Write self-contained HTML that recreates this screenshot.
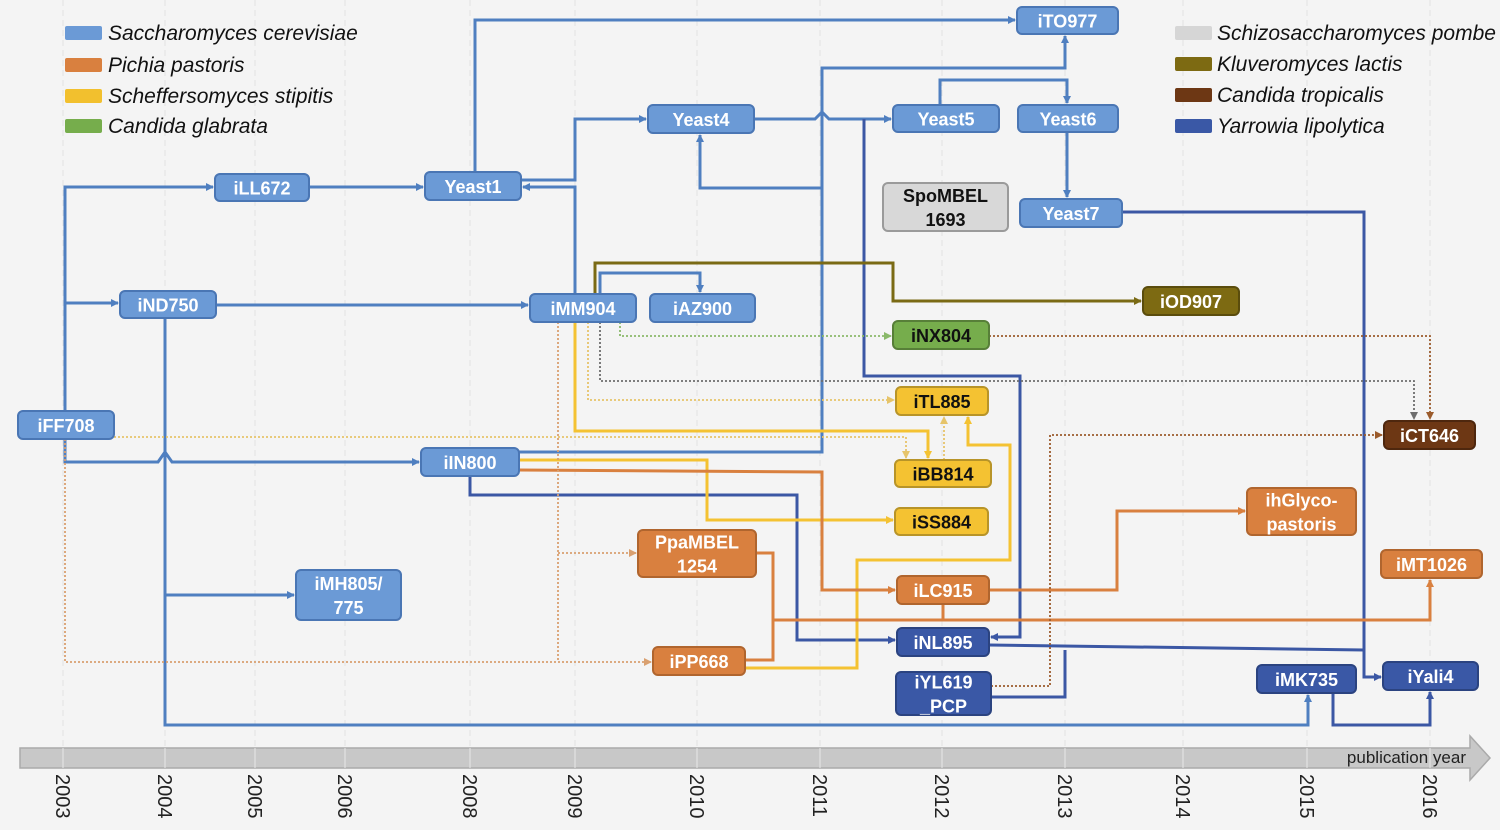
<!DOCTYPE html>
<html><head><meta charset="utf-8"><style>
html,body{margin:0;padding:0;background:#f4f4f4;}
svg{display:block;font-family:"Liberation Sans",sans-serif;}
</style></head><body>
<svg id="chart" width="1500" height="830" viewBox="0 0 1500 830">
<defs id="defs"></defs>
<rect x="0" y="0" width="1500" height="830" fill="#f4f4f4"/>
<g id="grid"></g>
<g id="edges"></g>
<g id="nodes"></g>
<g id="legend"></g>
<g id="axis"></g>
</svg>
<script>
const years = ["2003","2004","2005","2006","2008","2009","2010","2011","2012","2013","2014","2015","2016"];
const yearX = [63,165,255,345,470,575,697,820,942,1065,1183,1307,1430];
const legendLeft = ["Saccharomyces cerevisiae","Pichia pastoris","Scheffersomyces stipitis","Candida glabrata"];
const legendLeftColors = ["#6b9ad6","#d9803f","#f2c02e","#76ad4c"];
const legendRight = ["Schizosaccharomyces pombe","Kluveromyces lactis","Candida tropicalis","Yarrowia lipolytica"];
const legendRightColors = ["#d6d6d6","#7d6a12","#6d3714","#3a58a6"];

const NS="http://www.w3.org/2000/svg";
function mk(tag,attrs,parent){const e=document.createElementNS(NS,tag);for(const k in attrs)e.setAttribute(k,attrs[k]);parent.appendChild(e);return e;}
const C={sc:"#4f7fc0",yl:"#3b57a4",pp:"#d9803f",ss:"#f4c232",ol:"#7a6a14",gr:"#8ab96a",dk:"#6d6d6d",br:"#9b5b2c",op:"#d9a070",oy:"#e6c46a"};
const defs=document.getElementById('defs');
for(const k in C){
  const m=mk('marker',{id:'a'+k,markerWidth:8,markerHeight:8,refX:7,refY:4,orient:'auto',markerUnits:'userSpaceOnUse'},defs);
  mk('path',{d:'M0,0 L8,4 L0,8 z',fill:C[k]},m);
}
const grid=document.getElementById('grid');
yearX.forEach((x,i)=>{
  const l=mk('line',{x1:x,y1:0,x2:x,y2:748,stroke:'#e2e2e2','stroke-width':1,'stroke-dasharray':'6 4'},grid);
  
  
});
const edges=[
 ['sc','65,411 65,187 213,187',1],
 ['sc','65,303 118,303',1],
 ['sc','65,439 65,462 158,462 165,452 172,462 419,462',1],
 ['sc','309,187 423,187',1],
 ['sc','475,172 475,20 1015,20',1],
 ['sc','521,180 575,180 575,119 646,119',1],
 ['sc','575,294 575,187 523,187',1],
 ['sc','216,305 528,305',1],
 ['sc','165,318 165,725 1308,725 1308,695',1],
 ['sc','165,595 294,595',1],
 ['sc','600,294 600,273 700,273 700,292',1],
 ['sc','754,119 815,119 822,112 829,119 891,119',1],
 ['sc','519,452 822,452 822,68 1065,68 1065,36',1],
 ['sc','822,188 700,188 700,135',1],
 ['sc','940,105 940,80 1067,80 1067,103',1],
 ['sc','1067,132 1067,197',1],
 ['yl','864,119 864,376 1020,376 1020,637 991,637',1],
 ['yl','1122,212 1364,212 1364,677 1381,677',1],
 ['yl','470,476 470,495 797,495 797,640 895,640',1],
 ['yl','989,645 1364,650',0],
 ['yl','991,697 1065,697 1065,650',0],
 ['yl','1333,693 1333,725 1430,725 1430,692',1],
 ['ss','575,322 575,431 928,431 928,458',1],
 ['ss','519,460 707,460 707,520 893,520',1],
 ['ss','745,668 857,668 857,560 1010,560 1010,445 968,445 968,417',1],
 ['pp','519,470 822,472 822,590 895,590',1],
 ['pp','989,590 1117,590 1117,511 1245,511',1],
 ['pp','943,604 943,620',0],
 ['pp','773,620 1430,620 1430,580',1],
 ['pp','756,553 773,553 773,660 745,660',0],
 ['ol','595,294 595,263 893,263 893,301 1141,301',1],
 ['oy','588,322 588,400 894,400',1,1],
 ['oy','114,437 906,437 906,458',1,1],
 ['oy','944,460 944,417',1,1],
 ['op','65,439 65,662 651,662',1,1],
 ['op','558,322 558,662',0,1],
 ['op','558,553 636,553',1,1],
 ['gr','620,322 620,336 891,336',1,1],
 ['br','989,336 1430,336 1430,419',1,1],
 ['dk','600,322 600,381 1414,381 1414,419',1,1],
 ['br','991,686 1050,686 1050,435 1382,435',1,1]
];
const eg=document.getElementById('edges');
edges.forEach((e,i)=>{
  const a={points:e[1],fill:'none',stroke:C[e[0]],'stroke-width':e[3]?1.8:3,'stroke-linejoin':'miter'};
  if(e[3])a['stroke-dasharray']='2 2';
  if(e[2])a['marker-end']='url(#a'+e[0]+')';
  const p=mk('polyline',a,eg);
  
  
});
const B=['#6b9ad6','#4a76b4','#fff'],O=['#d9803f','#b0652e','#fff'],Y=['#f4c232','#b89428','#111'],
 G=['#76ad4c','#577f38','#111'],OL=['#7d6a12','#5a4c0c','#fff'],BR=['#6d3714','#4e270e','#fff'],
 D=['#3a58a6','#2b4380','#fff'],GY=['#d8d8d8','#9a9a9a','#111'];
const nodes=[
 [['iTO977'],1017,7,101,27,B],[['Yeast4'],648,105,106,28,B],[['Yeast5'],893,105,106,27,B],
 [['Yeast6'],1018,105,100,27,B],[['iLL672'],215,174,94,27,B],[['Yeast1'],425,172,96,28,B],
 [['SpoMBEL','1693'],883,183,125,48,GY],[['Yeast7'],1020,199,102,28,B],[['iND750'],120,291,96,27,B],
 [['iMM904'],530,294,106,28,B],[['iAZ900'],650,294,105,28,B],[['iOD907'],1143,287,96,28,OL],
 [['iNX804'],893,321,96,28,G],[['iTL885'],896,387,92,28,Y],[['iFF708'],18,411,96,28,B],
 [['iCT646'],1384,421,91,28,BR],[['iIN800'],421,448,98,28,B],[['iBB814'],895,460,96,27,Y],
 [['iSS884'],895,508,93,27,Y],[['ihGlyco-','pastoris'],1247,488,109,47,O],[['PpaMBEL','1254'],638,530,118,47,O],
 [['iMT1026'],1381,550,101,28,O],[['iMH805/','775'],296,570,105,50,B],[['iLC915'],897,576,92,28,O],
 [['iNL895'],897,628,92,28,D],[['iPP668'],653,647,92,28,O],[['iYL619','_PCP'],896,672,95,43,D],
 [['iMK735'],1257,665,99,28,D],[['iYali4'],1383,662,95,28,D]
];
const ng=document.getElementById('nodes');
nodes.forEach(n=>{
  const [lab,x,y,w,h,c]=n;
  const g=mk('g',{},ng);
  
  
  mk('rect',{x:x,y:y,width:w,height:h,rx:5,fill:c[0],stroke:c[1],'stroke-width':2},g);
  lab.forEach((t,i)=>{
    const ty=y+h/2+7-(lab.length-1)*12+i*24;
    const tx=mk('text',{x:x+w/2,y:ty,'text-anchor':'middle','font-size':18,'font-weight':'bold',fill:c[2]},g);
    tx.textContent=t;
  });
});
const lg=document.getElementById('legend');
function legendCol(names,cols,sx,tx,ys,side){
  names.forEach((t,i)=>{
    const g=mk('g',{},lg);
    
    
    mk('rect',{x:sx,y:ys[i]-7,width:37,height:14,rx:2,fill:cols[i]},g);
    const e=mk('text',{x:tx,y:ys[i]+7,'font-size':21,'font-style':'italic',fill:'#111'},g);
    e.textContent=t;
  });
}
legendCol(legendLeft,legendLeftColors,65,108,[33,65,96,126],'left');
legendCol(legendRight,legendRightColors,1175,1217,[33,64,95,126],'right');
const ax=document.getElementById('axis');
const bar=mk('path',{d:'M20,748 L1470,748 L1470,736 L1490,758 L1470,780 L1470,768 L20,768 Z',fill:'#c8c8c8',stroke:'#aaaaaa','stroke-width':1.5},ax);


const pt=mk('text',{x:1466,y:763,'text-anchor':'end','font-size':17,fill:'#222'},ax);
pt.textContent='publication  year';


years.forEach((yv,i)=>{
  const x=yearX[i];
  const tk=mk('line',{x1:x,y1:748,x2:x,y2:768,stroke:'#e8e8e8','stroke-width':1},ax);
  
  
  const t=mk('text',{x:0,y:0,'font-size':20,fill:'#222',transform:'translate('+(x-7)+',774) rotate(90)'},ax);
  t.textContent=yv;
  
  
});
</script>
</body></html>
